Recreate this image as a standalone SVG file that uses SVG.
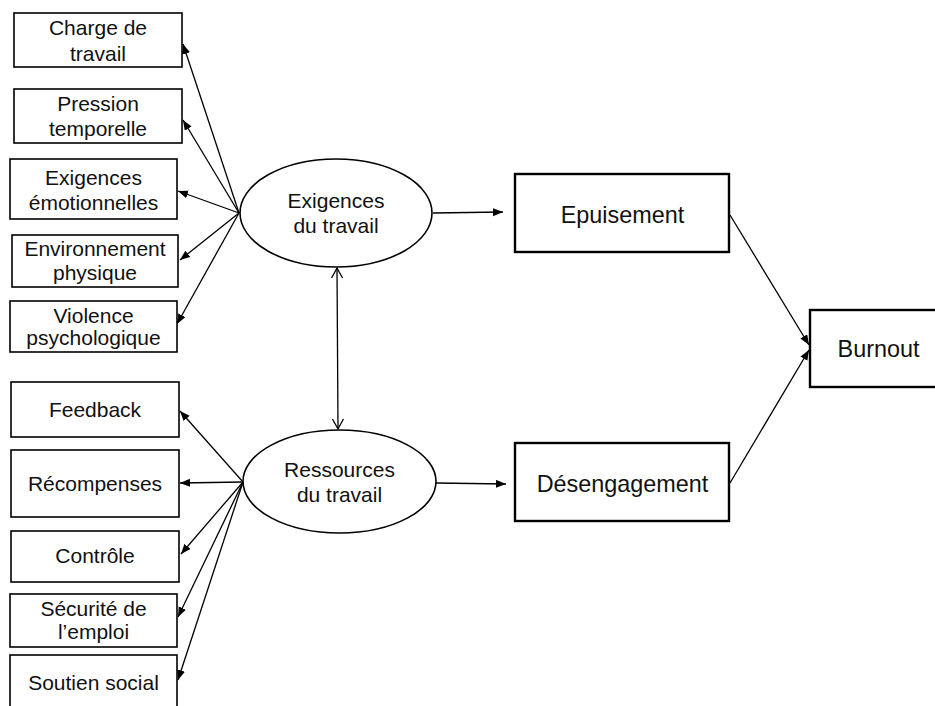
<svg xmlns="http://www.w3.org/2000/svg" width="935" height="706" viewBox="0 0 935 706">
<style>
  .box { fill: #fff; stroke: #000; stroke-width: 1.6; }
  .bigbox { fill: #fff; stroke: #000; stroke-width: 2.4; }
  .ell { fill: #fff; stroke: #000; stroke-width: 1.6; }
  .t { font-family: "Liberation Sans", Arial, sans-serif; font-size: 21px; fill: #111; text-anchor: middle; }
  .tb { font-family: "Liberation Sans", Arial, sans-serif; font-size: 23.4px; fill: #111; text-anchor: middle; }
  .c { stroke: #000; stroke-width: 1.3; fill: none; }
  .arr { marker-end: url(#tri); }
</style>
<defs>
  <marker id="tri" markerUnits="userSpaceOnUse" markerWidth="12" markerHeight="10" refX="10" refY="4" orient="auto">
    <path d="M0,0 L10,4 L0,8 z" fill="#000"/>
  </marker>
  <marker id="vee" markerUnits="userSpaceOnUse" markerWidth="14" markerHeight="14" refX="11" refY="6" orient="auto-start-reverse">
    <path d="M1,0.5 L11,6 L1,11.5" fill="none" stroke="#000" stroke-width="1.3"/>
  </marker>
</defs>

<g id="connectors">
  <line class="c arr" x1="239" y1="213" x2="183" y2="44"/>
  <line class="c arr" x1="239" y1="213" x2="183" y2="120"/>
  <line class="c arr" x1="239" y1="213" x2="178" y2="191"/>
  <line class="c arr" x1="239" y1="213" x2="180" y2="260"/>
  <line class="c arr" x1="239" y1="213" x2="177" y2="324"/>
  <line class="c arr" x1="243" y1="482" x2="180" y2="411"/>
  <line class="c arr" x1="243" y1="482" x2="180" y2="483"/>
  <line class="c arr" x1="243" y1="482" x2="181" y2="554"/>
  <line class="c arr" x1="243" y1="482" x2="178" y2="617"/>
  <line class="c arr" x1="243" y1="482" x2="178" y2="680"/>
  <line class="c" x1="337" y1="268" x2="338" y2="429" marker-start="url(#vee)" marker-end="url(#vee)"/>
  <line class="c arr" x1="433" y1="213" x2="503" y2="212"/>
  <line class="c arr" x1="436" y1="483" x2="506" y2="484"/>
  <line class="c arr" x1="730" y1="215" x2="809" y2="345"/>
  <line class="c arr" x1="730" y1="483" x2="809" y2="350"/>
</g>

<g id="charge">
  <rect class="box" x="14" y="13" width="168" height="54"/>
  <text class="t" x="98" y="35">Charge de</text>
  <text class="t" x="98" y="61">travail</text>
</g>
<g id="pression">
  <rect class="box" x="14" y="89" width="168" height="54"/>
  <text class="t" x="98" y="111">Pression</text>
  <text class="t" x="98" y="136">temporelle</text>
</g>
<g id="exigences-emo">
  <rect class="box" x="10" y="159" width="167" height="60"/>
  <text class="t" x="93.5" y="185">Exigences</text>
  <text class="t" x="93.5" y="210">émotionnelles</text>
</g>
<g id="environnement">
  <rect class="box" x="12" y="235" width="166" height="52"/>
  <text class="t" x="95" y="256">Environnement</text>
  <text class="t" x="95" y="280">physique</text>
</g>
<g id="violence">
  <rect class="box" x="10" y="301" width="167" height="51"/>
  <text class="t" x="93.5" y="323">Violence</text>
  <text class="t" x="93.5" y="345">psychologique</text>
</g>
<g id="feedback">
  <rect class="box" x="11" y="382" width="168" height="55"/>
  <text class="t" x="95" y="417">Feedback</text>
</g>
<g id="recompenses">
  <rect class="box" x="11" y="450" width="168" height="67"/>
  <text class="t" x="95" y="491">Récompenses</text>
</g>
<g id="controle">
  <rect class="box" x="11" y="531" width="168" height="51"/>
  <text class="t" x="95" y="563">Contrôle</text>
</g>
<g id="securite">
  <rect class="box" x="10" y="594" width="167" height="53"/>
  <text class="t" x="93.5" y="616">Sécurité de</text>
  <text class="t" x="93.5" y="639">l’emploi</text>
</g>
<g id="soutien">
  <rect class="box" x="10" y="655" width="167" height="60"/>
  <text class="t" x="93.5" y="690">Soutien social</text>
</g>

<g id="exigences-travail">
  <ellipse class="ell" cx="336" cy="213" rx="96" ry="54"/>
  <text class="t" x="336" y="208">Exigences</text>
  <text class="t" x="336" y="233">du travail</text>
</g>
<g id="ressources-travail">
  <ellipse class="ell" cx="339.5" cy="481.5" rx="96.5" ry="51.5"/>
  <text class="t" x="339.5" y="477">Ressources</text>
  <text class="t" x="339.5" y="502">du travail</text>
</g>

<g id="epuisement">
  <rect class="bigbox" x="515" y="174" width="214" height="78"/>
  <text class="tb" x="622.5" y="223">Epuisement</text>
</g>
<g id="desengagement">
  <rect class="bigbox" x="515" y="443" width="214" height="78"/>
  <text class="tb" x="622.5" y="492">Désengagement</text>
</g>
<g id="burnout">
  <rect class="bigbox" x="810" y="310" width="140" height="77"/>
  <text class="tb" x="878.5" y="357">Burnout</text>
</g>
</svg>
